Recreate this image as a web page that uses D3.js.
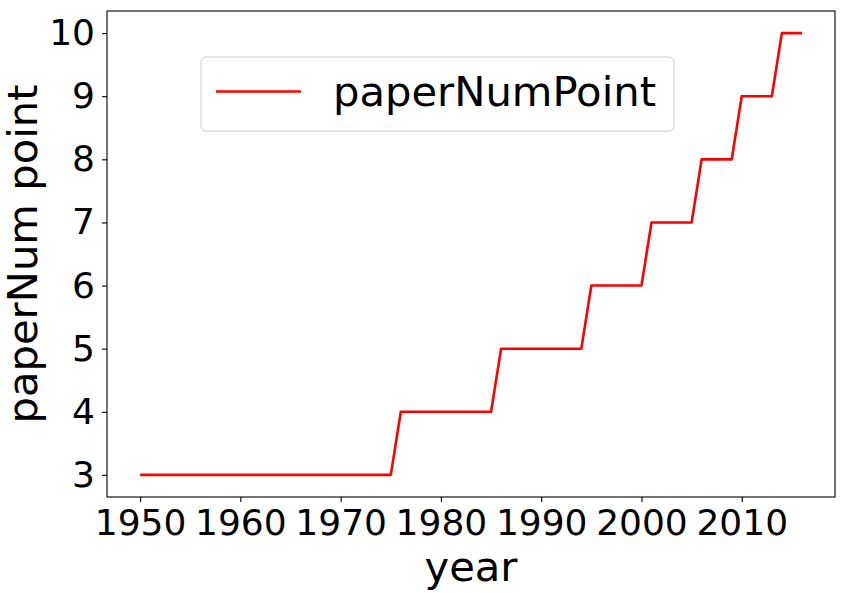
<!DOCTYPE html>
<html>
<head>
<meta charset="utf-8">
<script src="https://cdn.jsdelivr.net/npm/d3@7"></script>
<style>
  body { margin: 0; background: #fff; }
  svg { display: block; font-family: "DejaVu Sans", sans-serif; }
</style>
</head>
<body>
<script>
// yearly points
var years = [1950, 1951, 1952, 1953, 1954, 1955, 1956, 1957, 1958, 1959,
  1960, 1961, 1962, 1963, 1964, 1965, 1966, 1967, 1968, 1969,
  1970, 1971, 1972, 1973, 1974, 1975, 1976, 1977, 1978, 1979,
  1980, 1981, 1982, 1983, 1984, 1985, 1986, 1987, 1988, 1989,
  1990, 1991, 1992, 1993, 1994, 1995, 1996, 1997, 1998, 1999,
  2000, 2001, 2002, 2003, 2004, 2005, 2006, 2007, 2008, 2009,
  2010, 2011, 2012, 2013, 2014, 2015, 2016];
var paperNumPoint = [3, 3, 3, 3, 3, 3, 3, 3, 3, 3,
  3, 3, 3, 3, 3, 3, 3, 3, 3, 3,
  3, 3, 3, 3, 3, 3, 4, 4, 4, 4,
  4, 4, 4, 4, 4, 4, 5, 5, 5, 5,
  5, 5, 5, 5, 5, 6, 6, 6, 6, 6,
  6, 7, 7, 7, 7, 7, 8, 8, 8, 8,
  9, 9, 9, 9, 10, 10, 10];
var xTicks = [1950, 1960, 1970, 1980, 1990, 2000, 2010];
var yTicks = [3, 4, 5, 6, 7, 8, 9, 10];

var width = 844, height = 593;
var margin = { left: 107, right: 9, top: 11, bottom: 96 };

var svg = d3.select("body").append("svg")
    .attr("width", width)
    .attr("height", height);

var data = years.map(function(y, i) { return { year: y, v: paperNumPoint[i] }; });

// matplotlib style 5% margins
var xMin = d3.min(years), xMax = d3.max(years);
var xPad = (xMax - xMin) * 0.05;
var x = d3.scaleLinear()
    .domain([xMin - xPad, xMax + xPad])
    .range([margin.left, width - margin.right]);

var yMin = d3.min(paperNumPoint), yMax = d3.max(paperNumPoint);
var yPad = (yMax - yMin) * 0.05;
var y = d3.scaleLinear()
    .domain([yMin - yPad, yMax + yPad])
    .range([height - margin.bottom, margin.top]);

// line
svg.append("path")
    .datum(data)
    .attr("fill", "none")
    .attr("stroke", "#ff0000")
    .attr("stroke-width", 2.6)
    .attr("stroke-linejoin", "round")
    .attr("d", d3.line()
      .x(function(d) { return x(d.year); })
      .y(function(d) { return y(d.v); }));

// axes
var xAxis = svg.append("g")
    .attr("transform", "translate(0," + (height - margin.bottom) + ")")
    .call(d3.axisBottom(x).tickValues(xTicks).tickFormat(d3.format("d"))
      .tickSize(5).tickPadding(7).tickSizeOuter(0));
var yAxis = svg.append("g")
    .attr("transform", "translate(" + margin.left + ",0)")
    .call(d3.axisLeft(y).tickValues(yTicks).tickFormat(d3.format("d"))
      .tickSize(5).tickPadding(7).tickSizeOuter(0));

[xAxis, yAxis].forEach(function(g) {
  g.select(".domain").remove();
  g.selectAll("line").attr("stroke", "#000").attr("stroke-width", 1.1);
  g.selectAll("text")
    .attr("fill", "#000")
    .style("font-size", "36px")
    .style("font-family", "DejaVu Sans, sans-serif");
});

// frame
svg.append("rect")
    .attr("x", margin.left)
    .attr("y", margin.top)
    .attr("width", width - margin.left - margin.right)
    .attr("height", height - margin.top - margin.bottom)
    .attr("fill", "none")
    .attr("stroke", "#000")
    .attr("stroke-width", 1.1);

// axis labels
svg.append("text")
    .attr("x", (margin.left + width - margin.right) / 2)
    .attr("y", 581)
    .attr("text-anchor", "middle")
    .style("font-size", "41.7px")
    .text("year");

svg.append("text")
    .attr("transform", "translate(37," + ((margin.top + height - margin.bottom) / 2) + ") rotate(-90)")
    .attr("text-anchor", "middle")
    .style("font-size", "41.7px")
    .text("paperNum point");

// legend
var legend = svg.append("g");
legend.append("rect")
    .attr("x", 201).attr("y", 57)
    .attr("width", 473).attr("height", 74)
    .attr("rx", 5)
    .attr("fill", "#fff")
    .attr("fill-opacity", 0.8)
    .attr("stroke", "#cccccc")
    .attr("stroke-width", 1);
legend.append("line")
    .attr("x1", 216).attr("x2", 301)
    .attr("y1", 91.5).attr("y2", 91.5)
    .attr("stroke", "#ff0000")
    .attr("stroke-width", 2.6);
legend.append("text")
    .attr("x", 333).attr("y", 106)
    .style("font-size", "41.7px")
    .text("paperNumPoint");
</script>
</body>
</html>
